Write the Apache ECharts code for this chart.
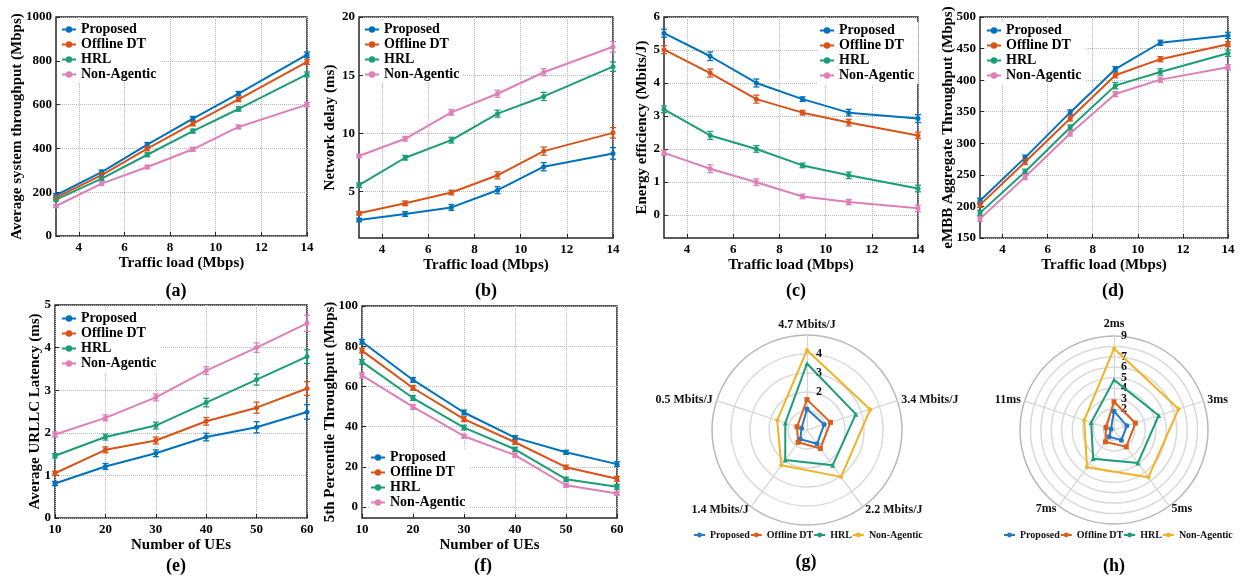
<!DOCTYPE html>
<html><head><meta charset="utf-8">
<script src="https://cdn.jsdelivr.net/npm/echarts@6/dist/echarts.min.js"></script>
<style>html,body{margin:0;padding:0;background:#fff}#c{width:1241px;height:580px}</style>
</head><body><div id="c"></div>
<script>
const methods = ['Proposed','Offline DT','HRL','Non-Agentic'];
const lineColors = ['#0072BD','#D95319','#1B9E77','#DE7FB8'];
const radarColors = ['#2878C0','#D95F1A','#1B9E77','#EFB324'];
const radarSymbols = ['circle','rect','triangle','diamond'];

const trafficLoad = [3,5,7,9,11,14];
const numUEs = [10,20,30,40,50,60];
const loadTicks = [4,6,8,10,12,14];
const ueTicks = [10,20,30,40,50,60];
const aTicks = [0,200,400,600,800,1000];
const bTicks = [5,10,15,20];
const cTicks = [0,1,2,3,4,5,6];
const dTicks = [150,200,250,300,350,400,450,500];
const eTicks = [0,1,2,3,4,5];
const fTicks = [0,20,40,60,80,100];

// (a) Average system throughput (Mbps)
const aProposed = [186,292,417,536,650,828];
const aOffline  = [175,278,399,513,624,795];
const aHRL      = [166,262,371,479,580,738];
const aNonAg    = [137,239,315,396,498,600];
const aProposedErr = [8,9,10,10,10,12];
const aOfflineErr  = [8,9,10,10,10,12];
const aHRLErr      = [7,8,9,9,10,11];
const aNonAgErr    = [7,8,8,9,9,10];

// (b) Network delay (ms)
const bProposed = [2.55,3.06,3.63,5.11,7.13,8.27];
const bOffline  = [3.12,3.98,4.91,6.39,8.47,10.04];
const bHRL      = [5.54,7.90,9.41,11.69,13.17,15.73];
const bNonAg    = [8.05,9.53,11.80,13.40,15.25,17.44];
const bProposedErr = [0.15,0.2,0.25,0.3,0.35,0.5];
const bOfflineErr  = [0.15,0.2,0.2,0.3,0.35,0.45];
const bHRLErr      = [0.2,0.2,0.25,0.3,0.35,0.4];
const bNonAgErr    = [0.15,0.2,0.25,0.3,0.3,0.45];

// (c) Energy efficiency (Mbits/J)
const cProposed = [5.51,4.81,4.00,3.51,3.10,2.92];
const cOffline  = [5.01,4.30,3.51,3.10,2.80,2.41];
const cHRL      = [3.20,2.41,2.00,1.50,1.20,0.80];
const cNonAg    = [1.88,1.40,0.99,0.56,0.39,0.20];
const cProposedErr = [0.12,0.13,0.12,0.07,0.1,0.12];
const cOfflineErr  = [0.12,0.12,0.12,0.07,0.1,0.1];
const cHRLErr      = [0.1,0.12,0.1,0.07,0.1,0.1];
const cNonAgErr    = [0.08,0.12,0.1,0.07,0.08,0.1];

// (d) eMBB Aggregate Throughput (Mbps)
const dProposed = [208.9,277.3,348.9,417.3,459.2,470.8];
const dOffline  = [202.5,270.4,339.3,407.7,433.2,457.0];
const dHRL      = [189.8,255.0,325.0,391.3,413.0,442.7];
const dNonAg    = [180.3,246.6,315.5,378.0,400.8,420.5];
const dProposedErr = [4,4,4,4,4,5];
const dOfflineErr  = [4,4,4,4,4,4];
const dHRLErr      = [4,4,4,5,5,5];
const dNonAgErr    = [4,4,4,4,4,4];

// (e) Average URLLC Latency (ms)
const eProposed = [0.81,1.21,1.52,1.90,2.13,2.49];
const eOffline  = [1.05,1.60,1.82,2.27,2.59,3.04];
const eHRL      = [1.46,1.90,2.17,2.71,3.25,3.79];
const eNonAg    = [1.96,2.35,2.83,3.46,4.00,4.57];
const eProposedErr = [0.05,0.07,0.08,0.09,0.13,0.17];
const eOfflineErr  = [0.05,0.07,0.08,0.09,0.13,0.16];
const eHRLErr      = [0.05,0.07,0.08,0.1,0.13,0.16];
const eNonAgErr    = [0.06,0.07,0.08,0.09,0.11,0.19];

// (f) 5th Percentile Throughput (Mbps)
const fProposed = [82.2,63.2,47.0,34.5,27.2,21.3];
const fOffline  = [77.8,59.2,43.7,32.2,19.8,14.0];
const fHRL      = [72.2,54.2,39.5,28.7,13.8,10.0];
const fNonAg    = [65.5,49.8,35.2,25.8,10.8,6.7];
const fProposedErr = [1.2,1.2,1.2,1.0,1.0,1.2];
const fOfflineErr  = [1.2,1.2,1.2,1.0,1.0,1.2];
const fHRLErr      = [1.2,1.2,1.2,1.0,1.0,1.2];
const fNonAgErr    = [1.2,1.2,1.0,1.0,1.0,1.0];

// (g) radar, energy efficiency (indicator order: counter-clockwise from top)
const gAxes = ['4.7 Mbits/J','0.5 Mbits/J','1.4 Mbits/J','2.2 Mbits/J','3.4 Mbits/J'];
const gProposed = [1.1,0.3,0.6,0.9,0.95];
const gOffline  = [1.6,0.55,0.8,1.2,1.3];
const gHRL      = [3.5,1.2,1.95,2.3,2.7];
const gNonAg    = [4.2,1.65,2.3,3.05,3.5];

// (h) radar, latency
const hAxes = ['2ms','11ms','7ms','5ms','3ms'];
const hProposed = [1.8,0.3,0.8,1.2,1.3];
const hOffline  = [2.7,0.8,1.4,2.0,2.15];
const hHRL      = [4.8,2.3,3.4,3.9,4.5];
const hNonAg    = [7.8,3.0,4.4,5.6,6.5];

const FONT = 'Liberation Serif';
const grids = [], xAxes = [], yAxes = [], series = [], legends = [];

function errRender(params, api) {
  const x = api.value(0), lo = api.value(1), hi = api.value(2);
  const pLo = api.coord([x, lo]), pHi = api.coord([x, hi]);
  const cap = 3;
  const style = {stroke: api.visual('color'), lineWidth: 1.3};
  return {type: 'group', children: [
    {type: 'line', shape: {x1: pHi[0], y1: pHi[1], x2: pLo[0], y2: pLo[1]}, style},
    {type: 'line', shape: {x1: pHi[0] - cap, y1: pHi[1], x2: pHi[0] + cap, y2: pHi[1]}, style},
    {type: 'line', shape: {x1: pLo[0] - cap, y1: pLo[1], x2: pLo[0] + cap, y2: pLo[1]}, style}
  ]};
}

function addPanel(p) {
  const i = grids.length;
  grids.push({left: p.g[0], top: p.g[1], width: p.g[2], height: p.g[3], show: true,
    borderColor: '#262626', borderWidth: 1.5, backgroundColor: 'transparent'});
  const nameStyle = {fontFamily: FONT, fontWeight: 'bold', fontSize: 15, color: '#000'};
  const tick = {show: true, inside: true, length: 4, lineStyle: {color: '#262626', width: 1}};
  const label = {fontFamily: FONT, fontWeight: 'bold', fontSize: 13, color: '#000',
    formatter: v => String(v)};
  const split = {show: true, lineStyle: {type: 'dotted', color: '#b8b8b8', width: 1}};
  xAxes.push({gridIndex: i, type: 'value', name: p.xName, nameLocation: 'middle', nameGap: p.xGap,
    nameMoveOverlap: false,
    nameTextStyle: nameStyle, min: p.xMin, max: p.xMax, axisLine: {show: false, onZero: false},
    axisTick: Object.assign({customValues: p.xTicks}, tick),
    axisLabel: Object.assign({customValues: p.xTicks, margin: 5}, label), splitLine: split});
  yAxes.push({gridIndex: i, type: 'value', name: p.yName, nameLocation: 'middle', nameGap: p.yGap,
    nameMoveOverlap: false,
    nameTextStyle: nameStyle, min: p.yMin, max: p.yMax, axisLine: {show: false, onZero: false},
    axisTick: Object.assign({customValues: p.yTicks}, tick),
    axisLabel: Object.assign({customValues: p.yTicks, margin: 4}, label), splitLine: split});
  p.vals.forEach((v, k) => {
    series.push({type: 'line', name: methods[k], xAxisIndex: i, yAxisIndex: i,
      data: p.x.map((x, j) => [x, v[j]]), color: lineColors[k],
      lineStyle: {width: 2, color: lineColors[k]}, itemStyle: {color: lineColors[k]},
      symbol: 'circle', symbolSize: 5, showSymbol: true, z: 3, animation: false});
  });
  p.vals.forEach((v, k) => {
    series.push({type: 'custom', xAxisIndex: i, yAxisIndex: i, encode: {x: 0, y: [1, 2]},
      data: p.x.map((x, j) => [x, v[j] - p.errs[k][j], v[j] + p.errs[k][j]]),
      renderItem: errRender, itemStyle: {color: lineColors[k]}, z: 4, animation: false});
  });
  legends.push({show: true, orient: 'vertical', left: p.lg[0], top: p.lg[1], data: methods.slice(),
    itemWidth: 14, itemHeight: 8, itemGap: 0, padding: [1, 4, 1, 1], backgroundColor: '#fff',
    selectedMode: false,
    textStyle: {fontFamily: FONT, fontWeight: 'bold', fontSize: 14, color: '#000', lineHeight: 15}});
}

addPanel({g: [56, 17, 251, 219], x: trafficLoad, xMin: 3, xMax: 14, xTicks: loadTicks,
  yMin: 0, yMax: 1000, yTicks: aTicks, xName: 'Traffic load (Mbps)', yName: 'Average system throughput (Mbps)',
  xGap: 20, yGap: 31, vals: [aProposed, aOffline, aHRL, aNonAg],
  errs: [aProposedErr, aOfflineErr, aHRLErr, aNonAgErr], lg: [60, 21]});
addPanel({g: [359, 17, 254, 221], x: trafficLoad, xMin: 3, xMax: 14, xTicks: loadTicks,
  yMin: 1, yMax: 20, yTicks: bTicks, xName: 'Traffic load (Mbps)', yName: 'Network delay (ms)',
  xGap: 20, yGap: 21, vals: [bProposed, bOffline, bHRL, bNonAg],
  errs: [bProposedErr, bOfflineErr, bHRLErr, bNonAgErr], lg: [363, 21]});
addPanel({g: [664, 17, 254, 221], x: trafficLoad, xMin: 3, xMax: 14, xTicks: loadTicks,
  yMin: -0.7, yMax: 6, yTicks: cTicks, xName: 'Traffic load (Mbps)', yName: 'Energy efficiency (Mbits/J)',
  xGap: 20, yGap: 14, vals: [cProposed, cOffline, cHRL, cNonAg],
  errs: [cProposedErr, cOfflineErr, cHRLErr, cNonAgErr], lg: [818, 22]});
addPanel({g: [980, 17, 248, 221], x: trafficLoad, xMin: 3, xMax: 14, xTicks: loadTicks,
  yMin: 150, yMax: 500, yTicks: dTicks, xName: 'Traffic load (Mbps)', yName: 'eMBB Aggregate Throughput (Mbps)',
  xGap: 20, yGap: 24, vals: [dProposed, dOffline, dHRL, dNonAg],
  errs: [dProposedErr, dOfflineErr, dHRLErr, dNonAgErr], lg: [985, 22]});
addPanel({g: [55, 305, 252, 213], x: numUEs, xMin: 10, xMax: 60, xTicks: ueTicks,
  yMin: 0, yMax: 5, yTicks: eTicks, xName: 'Number of UEs', yName: 'Average URLLC Latency (ms)',
  xGap: 20, yGap: 12, vals: [eProposed, eOffline, eHRL, eNonAg],
  errs: [eProposedErr, eOfflineErr, eHRLErr, eNonAgErr], lg: [60, 310]});
addPanel({g: [362, 306, 255, 212], x: numUEs, xMin: 10, xMax: 60, xTicks: ueTicks,
  yMin: -5.5, yMax: 100, yTicks: fTicks, xName: 'Number of UEs', yName: '5th Percentile Throughput (Mbps)',
  xGap: 20, yGap: 24, vals: [fProposed, fOffline, fHRL, fNonAg],
  errs: [fProposedErr, fOfflineErr, fHRLErr, fNonAgErr], lg: [369, 449]});

function makeRadar(center, radius, axes, max, showFrom, showTo, labelMargin) {
  const splitColors = [];
  for (let i = 0; i < max; i++) splitColors.push('#d9d9d9');
  splitColors.push('#b8b8b8');
  return {center: center, radius: radius, startAngle: 90, shape: 'circle', splitNumber: max,
    indicator: axes.map((n, i) => i === 0 ? {name: n, min: 0, max: max, axisLabel: {show: true}} : {name: n, min: 0, max: max}),
    axisName: {color: '#111', fontFamily: FONT, fontWeight: 'bold', fontSize: 12},
    nameGap: 4,
    axisLine: {lineStyle: {color: '#d4d4d4', width: 1.2}},
    splitLine: {lineStyle: {color: splitColors, width: 1.5}},
    splitArea: {show: false},
    axisTick: {show: false},
    axisLabel: {show: false, fontFamily: FONT, fontWeight: 'bold', fontSize: 12, color: '#111',
      margin: labelMargin, showMaxLabel: true, hideOverlap: false,
      formatter: v => (v >= showFrom && v <= showTo) ? String(v) : ''}
  };
}
const radars = [
  makeRadar([807, 430], 95, gAxes, 5, 2, 4, -15),
  makeRadar([1114, 430], 94, hAxes, 9, 2, 9, -13)
];
[[gProposed, gOffline, gHRL, gNonAg], [hProposed, hOffline, hHRL, hNonAg]].forEach((set, ri) => {
  set.forEach((v, k) => {
    series.push({type: 'radar', radarIndex: ri, symbol: radarSymbols[k], symbolSize: 5,
      data: [{value: v, name: methods[k]}],
      lineStyle: {width: 2, color: radarColors[k]}, itemStyle: {color: radarColors[k]},
      z: 3, animation: false});
  });
});
[[693, 530], [1003, 530]].forEach(pos => {
  legends.push({show: true, orient: 'horizontal', left: pos[0], top: pos[1],
    data: methods.map((m, k) => ({name: m, itemStyle: {color: radarColors[k]}, lineStyle: {color: radarColors[k]}})),
    itemWidth: 11, itemHeight: 6, itemGap: 0, padding: 0, selectedMode: false,
    textStyle: {fontFamily: FONT, fontWeight: 'bold', fontSize: 10, color: '#111'}});
});

const titleText = ['(a)','(b)','(c)','(d)','(e)','(f)','(g)','(h)'];
const titlePos = [[176,291],[486,291],[796,291],[1113,291],[176,566],[483,566],[806,562],[1114,566]];
const graphic = titleText.map((t, i) => ({type: 'text', x: titlePos[i][0], y: titlePos[i][1],
  style: {text: t, align: 'center', verticalAlign: 'middle', fontFamily: FONT, fontWeight: 'bold', fontSize: 18, fill: '#000'}}));

const chart = echarts.init(document.getElementById('c'), null, {renderer: 'canvas'});
chart.setOption({
  animation: false,
  backgroundColor: '#fff',
  textStyle: {fontFamily: FONT},
  grid: grids, xAxis: xAxes, yAxis: yAxes, radar: radars,
  legend: legends, series: series, graphic: graphic
});
</script></body></html>
